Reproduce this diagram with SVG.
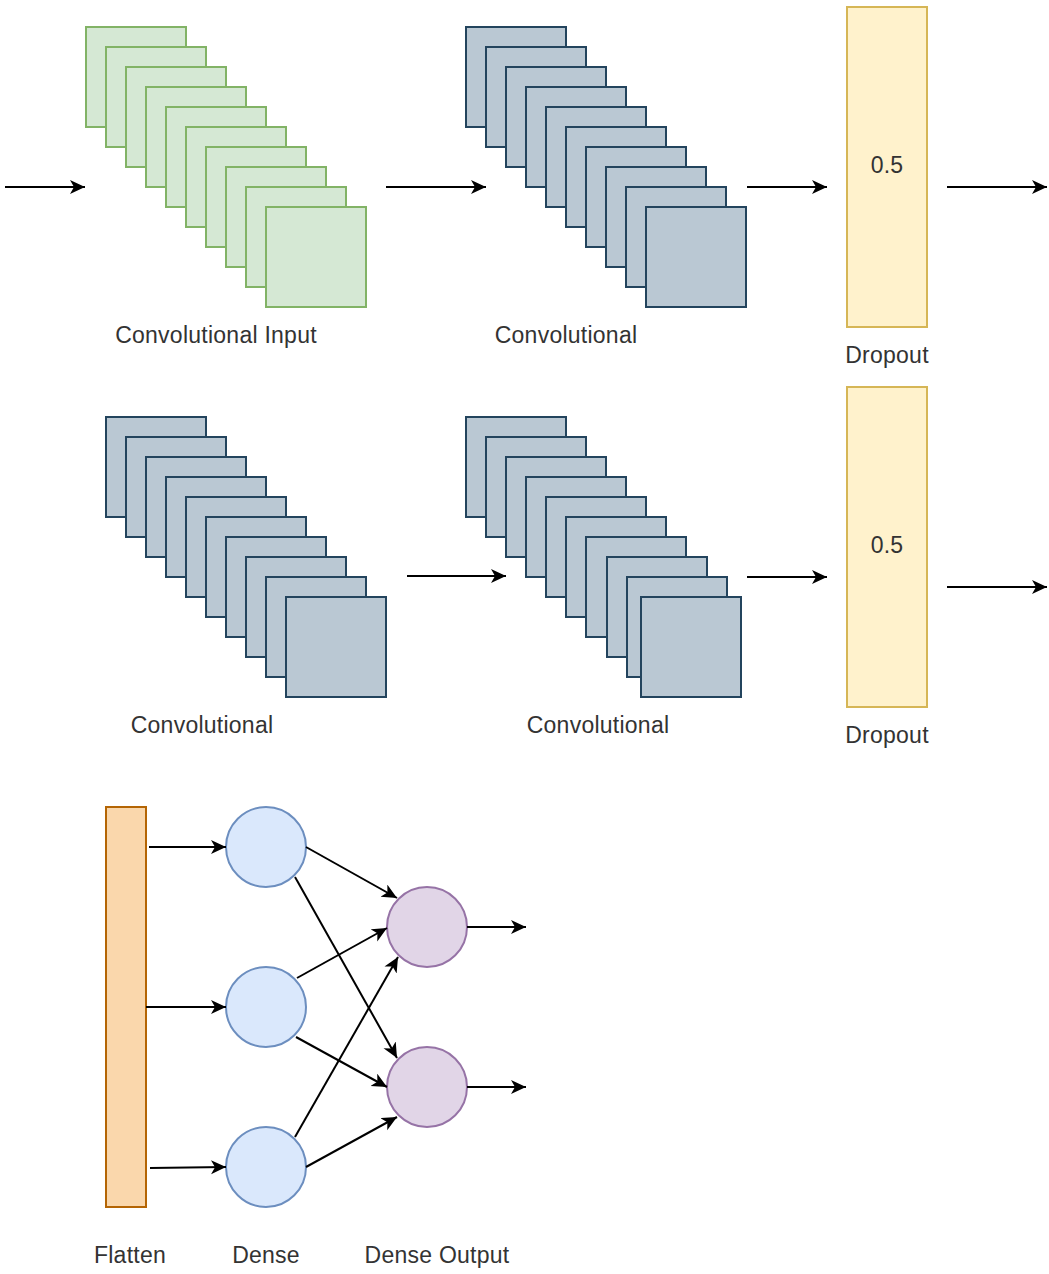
<svg xmlns="http://www.w3.org/2000/svg" width="1049" height="1274" viewBox="0 0 1049 1274">
<defs>
<style>
.g{fill:#d5e8d4;stroke:#82b366;stroke-width:2}
.b{fill:#bac8d3;stroke:#23445d;stroke-width:2}
.y{fill:#fff2cc;stroke:#d6b656;stroke-width:2}
.o{fill:#fad7ac;stroke:#b46504;stroke-width:2}
.d{fill:#dae8fc;stroke:#6c8ebf;stroke-width:2}
.p{fill:#e1d5e7;stroke:#9673a6;stroke-width:2}
.t{font-family:"Liberation Sans",Arial,sans-serif;font-size:23px;fill:#333333;text-anchor:middle;letter-spacing:0.25px}
.c line{stroke:#000;stroke-width:2;marker-end:url(#ah)}
</style>
<marker id="ah" markerUnits="userSpaceOnUse" markerWidth="17" markerHeight="16" refX="15" refY="7" orient="auto">
<path d="M0,0 L15,7 L0,14 L4,7 Z" fill="#000"/>
</marker>
<g id="stackG">
<rect class="g" x="0" y="0" width="100" height="100"/>
<rect class="g" x="20" y="20" width="100" height="100"/>
<rect class="g" x="40" y="40" width="100" height="100"/>
<rect class="g" x="60" y="60" width="100" height="100"/>
<rect class="g" x="80" y="80" width="100" height="100"/>
<rect class="g" x="100" y="100" width="100" height="100"/>
<rect class="g" x="120" y="120" width="100" height="100"/>
<rect class="g" x="140" y="140" width="100" height="100"/>
<rect class="g" x="160" y="160" width="100" height="100"/>
<rect class="g" x="180" y="180" width="100" height="100"/>
</g>
<g id="stackB">
<rect class="b" x="0" y="0" width="100" height="100"/>
<rect class="b" x="20" y="20" width="100" height="100"/>
<rect class="b" x="40" y="40" width="100" height="100"/>
<rect class="b" x="60" y="60" width="100" height="100"/>
<rect class="b" x="80" y="80" width="100" height="100"/>
<rect class="b" x="100" y="100" width="100" height="100"/>
<rect class="b" x="120" y="120" width="100" height="100"/>
<rect class="b" x="140" y="140" width="100" height="100"/>
<rect class="b" x="160" y="160" width="100" height="100"/>
<rect class="b" x="180" y="180" width="100" height="100"/>
</g>
</defs>
<rect x="0" y="0" width="1049" height="1274" fill="#ffffff"/>

<g id="conv-input">
<use href="#stackG" x="86" y="27"/>
<text class="t" x="216" y="343">Convolutional Input</text>
</g>
<g id="conv1">
<use href="#stackB" x="466" y="27"/>
<text class="t" x="566" y="343">Convolutional</text>
</g>
<g id="dropout1">
<rect class="y" x="847" y="7" width="80" height="320"/>
<text class="t" x="887" y="173">0.5</text>
<text class="t" x="887" y="363">Dropout</text>
</g>
<g id="conv2">
<use href="#stackB" x="106" y="417"/>
<text class="t" x="202" y="733">Convolutional</text>
</g>
<g id="conv3">
<rect class="b" x="466" y="417" width="100" height="100"/>
<rect class="b" x="486" y="437" width="100" height="100"/>
<rect class="b" x="506" y="457" width="100" height="100"/>
<rect class="b" x="526" y="477" width="100" height="100"/>
<rect class="b" x="546" y="497" width="100" height="100"/>
<rect class="b" x="566" y="517" width="100" height="100"/>
<rect class="b" x="586" y="537" width="100" height="100"/>
<rect class="b" x="607" y="557" width="100" height="100"/>
<rect class="b" x="627" y="577" width="100" height="100"/>
<rect class="b" x="641" y="597" width="100" height="100"/>
<text class="t" x="598" y="733">Convolutional</text>
</g>
<g id="dropout2">
<rect class="y" x="847" y="387" width="80" height="320"/>
<text class="t" x="887" y="553">0.5</text>
<text class="t" x="887" y="743">Dropout</text>
</g>
<g id="flatten">
<rect class="o" x="106" y="807" width="40" height="400"/>
<text class="t" x="130" y="1263">Flatten</text>
</g>
<g id="dense1"><circle class="d" cx="266" cy="847" r="40"/></g>
<g id="dense2"><circle class="d" cx="266" cy="1007" r="40"/></g>
<g id="dense3"><circle class="d" cx="266" cy="1167" r="40"/></g>
<g id="dense-label"><text class="t" x="266" y="1263">Dense</text></g>
<g id="out1"><circle class="p" cx="427" cy="927" r="40"/></g>
<g id="out2"><circle class="p" cx="427" cy="1087" r="40"/></g>
<g id="out-label"><text class="t" x="437" y="1263">Dense Output</text></g>

<g id="connectors" class="c">
<line x1="5" y1="187" x2="85" y2="187"/>
<line x1="386" y1="187" x2="486" y2="187"/>
<line x1="747" y1="187" x2="827" y2="187"/>
<line x1="947" y1="187" x2="1047" y2="187"/>
<line x1="407" y1="576" x2="506" y2="576"/>
<line x1="747" y1="577" x2="827" y2="577"/>
<line x1="947" y1="587" x2="1047" y2="587"/>
<line x1="149" y1="847" x2="226" y2="847"/>
<line x1="146" y1="1007" x2="226" y2="1007"/>
<line x1="150" y1="1168" x2="226" y2="1167"/>
<line x1="306" y1="847" x2="397" y2="898"/>
<line x1="295" y1="877" x2="397" y2="1058"/>
<line x1="297" y1="978" x2="387" y2="928"/>
<line x1="296" y1="1037" x2="387" y2="1087"/>
<line x1="295" y1="1137" x2="398" y2="957"/>
<line x1="306" y1="1167" x2="397" y2="1117"/>
<line x1="467" y1="927" x2="526" y2="927"/>
<line x1="467" y1="1087" x2="526" y2="1087"/>
</g>
</svg>
